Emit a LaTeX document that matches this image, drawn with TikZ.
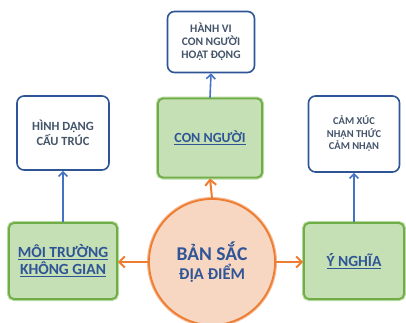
\documentclass[tikz,border=0pt]{standalone}
\usepackage{fontspec}
\setmainfont{Carlito}
\usetikzlibrary{arrows.meta}
\definecolor{leafFill}{HTML}{C5E0B4}
\definecolor{leafLine}{HTML}{70AD47}
\definecolor{leafGlow}{HTML}{B4D9A0}
\definecolor{coreFill}{HTML}{F8D7C2}
\definecolor{coreLine}{HTML}{ED7D31}
\definecolor{coreGlow}{HTML}{F6B993}
\definecolor{noteLine}{HTML}{2F5597}
\definecolor{linkBlue}{HTML}{4472C4}
\definecolor{titleBlue}{HTML}{2F5597}
\definecolor{noteText}{HTML}{44546A}
\tikzset{
  leaf/.style={rectangle, rounded corners=5pt, fill=leafFill, draw=leafLine,
    line width=1.8pt, preaction={draw=leafGlow, line width=4pt},
    align=center, font=\bfseries\fontsize{15.5}{17}\selectfont, text=titleBlue,
    inner sep=0pt},
  note/.style={rectangle, rounded corners=7pt, fill=white, draw=noteLine,
    line width=1.6pt, align=center, font=\bfseries\fontsize{11}{13}\selectfont,
    text=noteText, inner sep=0pt},
  core/.style={circle, fill=coreFill, draw=coreLine, line width=1.8pt,
    preaction={draw=coreGlow, line width=4pt}, align=center, inner sep=0pt,
    text=titleBlue},
  hub/.style={draw=coreLine, line width=2pt,
    -{Straight Barb[length=5.5pt, width=11pt, line width=2pt]}},
  twig/.style={draw=linkBlue, line width=1.6pt,
    -{Straight Barb[length=4.5pt, width=9pt, line width=1.6pt]}},
}
\begin{document}
\begin{tikzpicture}[x=1pt, y=-1pt]
  \useasboundingbox (0,0) rectangle (406,322);
  % central circle
  \node[core, minimum size=126pt] (core) at (212,262)
    {{\bfseries\fontsize{19.5}{21}\selectfont BẢN SẮC}\\[2pt]
     {\bfseries\fontsize{16.5}{18}\selectfont ĐỊA ĐIỂM}};
  % three aspects
  \node[leaf, minimum width=108pt, minimum height=76pt] (space) at (63,261)
    {\underline{MÔI TRƯỜNG}\\\underline{KHÔNG GIAN}};
  \node[leaf, minimum width=104pt, minimum height=79pt,
        font=\bfseries\fontsize{14}{16}\selectfont] (people) at (210,138)
    {\underline{CON NGƯỜI}};
  \node[leaf, minimum width=100pt, minimum height=76pt] (meaning) at (354,261)
    {\underline{Ý NGHĨA}};
  % descriptions
  \node[note, minimum width=92pt, minimum height=74pt,
        font=\bfseries\fontsize{12.5}{15}\selectfont] (form) at (63,133)
    {HÌNH DẠNG\\CẤU TRÚC};
  \node[note, minimum width=87pt, minimum height=61pt,
        font=\bfseries\fontsize{11.5}{13}\selectfont] (act) at (211,42)
    {HÀNH VI\\CON NGƯỜI\\HOẠT ĐỘNG};
  \node[note, minimum width=91pt, minimum height=76pt,
        font=\bfseries\fontsize{10.5}{12.5}\selectfont] (feel) at (354,134)
    {CẢM XÚC\\NHẬN THỨC\\CẢM NHẬN};
  % connectors
  \draw[hub] (core.north) -- (people.south);
  \draw[hub] (core.west) -- (space.east |- core.west);
  \draw[hub] (core.east) -- (meaning.west |- core.east);
  \draw[twig] (space.north) -- (form.south);
  \draw[twig] (people.north) -- (act.south);
  \draw[twig] (meaning.north) -- (feel.south);
\end{tikzpicture}
\end{document}
